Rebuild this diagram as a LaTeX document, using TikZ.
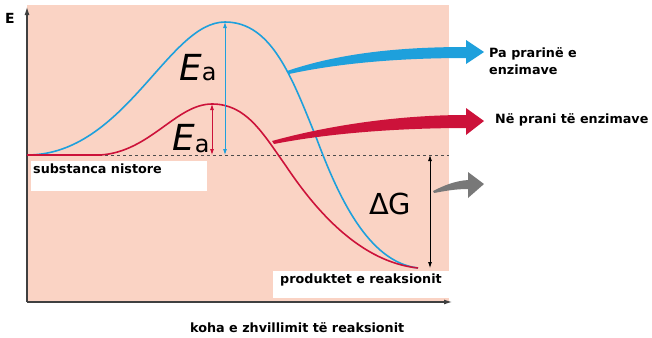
\documentclass[tikz,border=0pt]{standalone}
\usepackage{fontspec}
\setmainfont{DejaVu Sans}
\usetikzlibrary{arrows.meta,calc,positioning}

\definecolor{plotpink}{RGB}{250,211,196}
\definecolor{slowblue}{RGB}{30,160,220}
\definecolor{fastred}{RGB}{204,18,58}
\definecolor{gaingrey}{RGB}{120,120,120}

\begin{document}
\begin{tikzpicture}[
    x=1bp, y=-1bp,
    font=\bfseries\fontsize{12.8}{14}\selectfont,
    axis/.style={line width=1.1pt, draw=black!75, -{Latex[length=8bp,width=5bp]}},
    curve/.style={line width=1.6pt},
    gap/.style={line width=0.8pt, {Latex[length=6bp,width=4bp]}-{Latex[length=6bp,width=4bp]}},
    level/.style={line width=0.6pt, draw=black!70, dash pattern=on 3bp off 3bp},
    tag/.style={anchor=base west, inner sep=0pt},
    blank/.style={fill=white, draw=none},
    energy/.style={anchor=base west, inner sep=0pt, font=\mdseries\fontsize{36}{36}\selectfont}
]

\newcommand{\actlabel}[1]{{\itshape E}\raisebox{#1}{\fontsize{24}{24}\selectfont a}}

\useasboundingbox (0,0) rectangle (652,337);

% plot area
\fill[plotpink] (27,5) rectangle (449,302);
\fill[blank] (31,161) rectangle (207,191);
\fill[blank] (273,271) rectangle (449,298);

\coordinate (origin) at (27,302);
\coordinate (ytip) at (27,7);
\coordinate (xtip) at (452,302);
\draw[axis] (origin) -- (ytip);
\draw[axis] (origin) -- (xtip);
\node[anchor=base west, inner sep=0pt, font=\bfseries\fontsize{14}{14}\selectfont] (elabel) at (5,23) {E};

% levels
\coordinate (start) at (27,155);
\coordinate (levelend) at (449,155);
\coordinate (finish) at (418,268);
\coordinate (bluepeak) at (225,22);
\coordinate (redpeak) at (212,104);
\draw[level] (start) -- (levelend);

% curves
\draw[curve, slowblue] (start) .. controls (125,155) and (168,22) .. (bluepeak)
    .. controls (272,22) and (292,78) .. (316,137)
    .. controls (338,196) and (368,262) .. (finish);
\draw[curve, fastred] (start) -- (100,155) .. controls (150,152) and (176,104) .. (redpeak)
    .. controls (246,104) and (262,132) .. (286,166)
    .. controls (318,214) and (362,262) .. (finish);

% activation energies
\coordinate (bluefoot) at (225,155);
\coordinate (redfoot) at (212,155);
\draw[gap, slowblue] (bluepeak) -- (bluefoot);
\draw[gap, fastred] (redpeak) -- (redfoot);
\node[energy] (eablue) at (179,80) {\actlabel{0pt}};
\node[energy] (eared) at (172,150) {\actlabel{-2bp}};

% free energy
\coordinate (gtop) at (430,155);
\coordinate (gbottom) at (430,268);
\draw[gap, black] (gtop) -- (gbottom);
\node[anchor=base west, inner sep=0pt, font=\mdseries\fontsize{29}{29}\selectfont] (dg) at (369,214) {ΔG};

% pointer arrows
\fill[slowblue] (287,71) .. controls (340,53) and (400,47) .. (466,47) -- (466,40) -- (484,52)
    -- (466,64) -- (466,58) .. controls (400,58) and (340,63) .. (289,74) -- cycle;
\fill[fastred] (272,141) .. controls (330,125) and (400,115) .. (466,115) -- (466,108) -- (484,121)
    -- (466,135) -- (466,128) .. controls (400,128) and (330,133) .. (274,144) -- cycle;
\fill[gaingrey] (433,191) .. controls (445,185) and (455,181) .. (468,180) -- (468,172) -- (484,184)
    -- (468,198) -- (468,189) .. controls (455,189) and (445,191) .. (434,193) -- cycle;

% texts
\node[tag] (slow1) at (489,57) {Pa prarinë e};
\node[tag] (slow2) at (489,74) {enzimave};
\node[tag] (fast) at (495,123) {Në prani të enzimave};
\node[tag] (reactant) at (33,173) {substanca nistore};
\node[tag] (product) at (280,283) {produktet e reaksionit};
\node[tag] (time) at (190,332) {koha e zhvillimit të reaksionit};

\end{tikzpicture}
\end{document}
